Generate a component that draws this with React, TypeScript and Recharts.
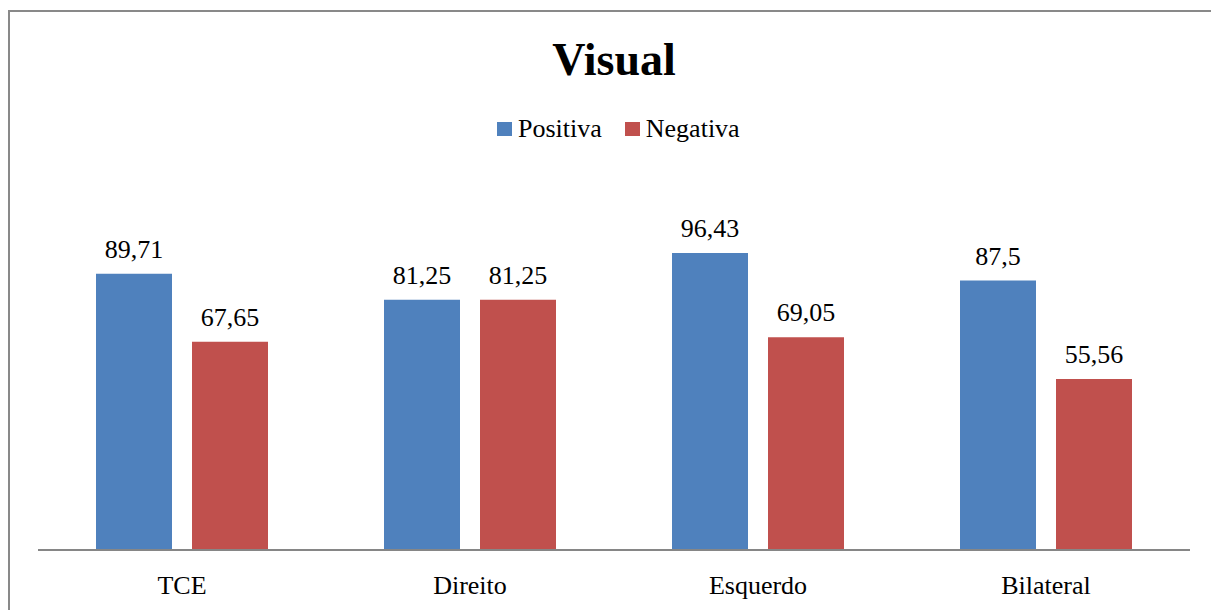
import React from "react";
import { Bar, BarChart, LabelList, XAxis, YAxis } from "recharts";

const categories = ["TCE", "Direito", "Esquerdo", "Bilateral"];
const positiva = [89.71, 81.25, 96.43, 87.5];
const negativa = [67.65, 81.25, 69.05, 55.56];

const series = [
  { key: "positiva", name: "Positiva", color: "#4F81BD" },
  { key: "negativa", name: "Negativa", color: "#C0504D" }
];

const data = categories.map((name, i) => ({
  name,
  positiva: positiva[i],
  negativa: negativa[i]
}));

const FONT = "Liberation Serif, Times New Roman, serif";

// values use a decimal comma
const formatValue = (v: number) => String(v).replace(".", ",");

export default function App() {
  return (
    <div style={{ position: "absolute", left: 0, top: 0, width: 1211, height: 610, overflow: "hidden", background: "#fff" }}>
      {/* chart frame, runs past the right and bottom edges */}
      <div
        style={{
          position: "absolute",
          left: 8,
          top: 10,
          width: 1300,
          height: 700,
          border: "2px solid #898989",
          boxSizing: "border-box"
        }}
      />
      <div
        style={{
          position: "absolute",
          left: 0,
          top: 29.5,
          width: 1228,
          textAlign: "center",
          fontFamily: FONT,
          fontWeight: "bold",
          fontSize: 46,
          lineHeight: "60px",
          color: "#000"
        }}
      >
        Visual
      </div>
      <div
        style={{
          position: "absolute",
          left: 497,
          top: 114,
          display: "flex",
          alignItems: "center",
          fontFamily: FONT,
          fontSize: 26,
          lineHeight: "30px",
          color: "#000",
          whiteSpace: "nowrap"
        }}
      >
        {series.map((s, i) => (
          <div key={s.key} style={{ display: "flex", alignItems: "center", marginLeft: i ? 23 : 0 }}>
            <span style={{ width: 15, height: 14, background: s.color, display: "inline-block", marginRight: 6 }} />
            <span>{s.name}</span>
          </div>
        ))}
      </div>
      <div style={{ position: "absolute", left: 0, top: 0 }}>
        <BarChart
          width={1211}
          height={610}
          data={data}
          margin={{ top: 242, right: 21, left: 38, bottom: 0 }}
          barSize={76}
          barGap={20}
        >
          <XAxis
            dataKey="name"
            height={60}
            tickLine={false}
            tickSize={0}
            tickMargin={25.5}
            axisLine={{ stroke: "#868686", strokeWidth: 2 }}
            tick={{ fill: "#000", fontSize: 26, fontFamily: FONT }}
          />
          <YAxis hide domain={[0, 100]} />
          {series.map((s) => (
            <Bar key={s.key} dataKey={s.key} name={s.name} fill={s.color} isAnimationActive={false}>
              <LabelList
                dataKey={s.key}
                position="top"
                offset={16}
                formatter={(v: number) => formatValue(v)}
                fill="#000"
                fontSize={26}
                fontFamily={FONT}
              />
            </Bar>
          ))}
        </BarChart>
      </div>
    </div>
  );
}
